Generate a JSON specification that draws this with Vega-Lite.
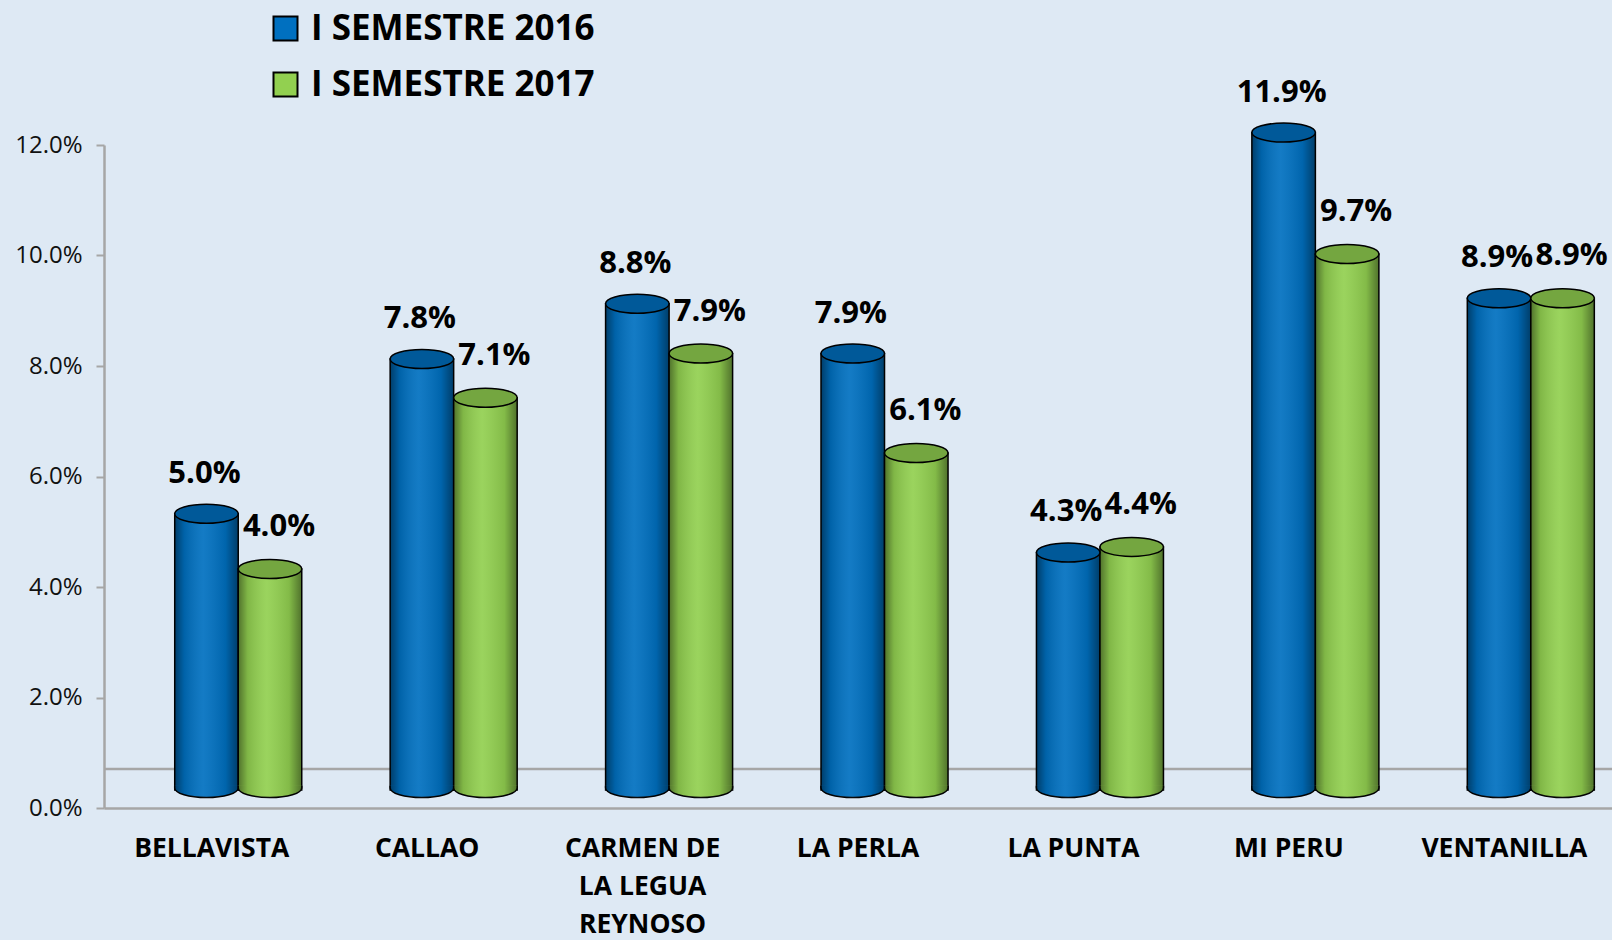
{
  "$schema": "https://vega.github.io/schema/vega-lite/v6.json",
  "width": 1508,
  "height": 663,
  "autosize": {"type": "none"},
  "padding": {"left": 104, "top": 145, "right": 0, "bottom": 132},
  "background": "#dee9f4",
  "config": {"view": {"stroke": null}, "font": "Open Sans"},
  "layer": [
    {
      "data": {"values": [{"base": 0}]},
      "mark": {"type": "rule", "color": "#a6a6a6", "strokeWidth": 2.5, "yOffset": -39},
      "encoding": {"y": {"field": "base", "type": "quantitative", "scale": {"domain": [0, 0.12], "nice": false}}}
    },
    {
      "data": {
        "values": [
          {"municipio": "BELLAVISTA", "periodo": "I SEMESTRE 2016", "valor": 0.050},
          {"municipio": "BELLAVISTA", "periodo": "I SEMESTRE 2017", "valor": 0.040},
          {"municipio": "CALLAO", "periodo": "I SEMESTRE 2016", "valor": 0.078},
          {"municipio": "CALLAO", "periodo": "I SEMESTRE 2017", "valor": 0.071},
          {"municipio": "CARMEN DE LA LEGUA REYNOSO", "periodo": "I SEMESTRE 2016", "valor": 0.088},
          {"municipio": "CARMEN DE LA LEGUA REYNOSO", "periodo": "I SEMESTRE 2017", "valor": 0.079},
          {"municipio": "LA PERLA", "periodo": "I SEMESTRE 2016", "valor": 0.079},
          {"municipio": "LA PERLA", "periodo": "I SEMESTRE 2017", "valor": 0.061},
          {"municipio": "LA PUNTA", "periodo": "I SEMESTRE 2016", "valor": 0.043},
          {"municipio": "LA PUNTA", "periodo": "I SEMESTRE 2017", "valor": 0.044},
          {"municipio": "MI PERU", "periodo": "I SEMESTRE 2016", "valor": 0.119},
          {"municipio": "MI PERU", "periodo": "I SEMESTRE 2017", "valor": 0.097},
          {"municipio": "VENTANILLA", "periodo": "I SEMESTRE 2016", "valor": 0.089},
          {"municipio": "VENTANILLA", "periodo": "I SEMESTRE 2017", "valor": 0.089}
        ]
      },
      "encoding": {
        "x": {
          "field": "municipio", "type": "nominal", "sort": null,
          "scale": {"paddingInner": 0, "paddingOuter": 0},
          "axis": {
            "title": null, "labelAngle": 0, "ticks": false,
            "domainColor": "#a6a6a6", "domainWidth": 2.5,
            "labelFont": "Open Sans", "labelFontSize": 26.5, "labelFontWeight": "bold", "labelColor": "#000",
            "labelPadding": 27, "labelLineHeight": 38, "labelLimit": 0,
            "labelExpr": "datum.value == 'CARMEN DE LA LEGUA REYNOSO' ? ['CARMEN DE', 'LA LEGUA', 'REYNOSO'] : datum.value"
          }
        },
        "xOffset": {
          "field": "periodo", "type": "nominal",
          "scale": {"paddingInner": 0, "paddingOuter": 0.696, "align": 0.8}
        },
        "y": {
          "field": "valor", "type": "quantitative",
          "scale": {"domain": [0, 0.12], "nice": false},
          "axis": {
            "title": null, "values": [0, 0.02, 0.04, 0.06, 0.08, 0.1, 0.12], "format": ".1%", "grid": false,
            "domainColor": "#a6a6a6", "domainWidth": 2.5, "tickColor": "#a6a6a6", "tickWidth": 2, "tickSize": 8,
            "labelFont": "Open Sans", "labelFontSize": 24, "labelColor": "#111", "labelPadding": 14
          }
        }
      },
      "layer": [
        {
          "mark": {"type": "bar", "stroke": "#000", "strokeWidth": 1.5, "yOffset": -18, "y2Offset": -20},
          "encoding": {
            "color": {
              "field": "periodo", "type": "nominal",
              "scale": {"domain": ["I SEMESTRE 2016", "I SEMESTRE 2017"], "range": ["#0070c0", "#92d050"]},
              "legend": {
                "title": null, "orient": "none", "legendX": 164, "legendY": -134, "padding": 0,
                "symbolType": "square", "symbolSize": 576, "symbolStrokeColor": "#000", "symbolStrokeWidth": 2,
                "symbolOpacity": 1,
                "labelFont": "Open Sans", "labelFontSize": 35, "labelFontWeight": "bold", "labelColor": "#000",
                "rowPadding": 20, "labelOffset": 8, "labelLimit": 0
              }
            }
          }
        },
        {
          "mark": {
            "type": "bar", "yOffset": -18, "y2Offset": -20,
            "fill": {
              "gradient": "linear", "x1": 0, "x2": 1, "y1": 0, "y2": 0,
              "stops": [
                {"offset": 0, "color": "rgba(0,0,0,0.45)"},
                {"offset": 0.15, "color": "rgba(0,0,0,0.12)"},
                {"offset": 0.45, "color": "rgba(255,255,255,0.08)"},
                {"offset": 0.8, "color": "rgba(0,0,0,0.1)"},
                {"offset": 1, "color": "rgba(0,0,0,0.45)"}
              ]
            }
          }
        },
        {
          "mark": {"type": "point", "shape": "M -1 -0.07 L -1 0 A 1 0.3 0 0 0 1 0 L 1 -0.07", "size": 4032, "filled": true, "opacity": 1, "stroke": "#000", "strokeWidth": 1.5, "yOffset": -20},
          "encoding": {
            "y": {"datum": 0},
            "fill": {"field": "periodo", "type": "nominal", "scale": {"domain": ["I SEMESTRE 2016", "I SEMESTRE 2017"], "range": ["#0070c0", "#92d050"]}, "legend": null}
          }
        },
        {
          "mark": {
            "type": "point", "shape": "M -1 -0.07 L -1 0 A 1 0.3 0 0 0 1 0 L 1 -0.07", "size": 4032, "filled": true, "opacity": 1, "strokeWidth": 0, "yOffset": -20,
            "fill": {
              "gradient": "linear", "x1": 0, "x2": 1, "y1": 0, "y2": 0,
              "stops": [
                {"offset": 0, "color": "rgba(0,0,0,0.45)"},
                {"offset": 0.15, "color": "rgba(0,0,0,0.12)"},
                {"offset": 0.45, "color": "rgba(255,255,255,0.08)"},
                {"offset": 0.8, "color": "rgba(0,0,0,0.1)"},
                {"offset": 1, "color": "rgba(0,0,0,0.45)"}
              ]
            }
          },
          "encoding": {"y": {"datum": 0}}
        },
        {
          "mark": {"type": "point", "shape": "M -1 0 A 1 0.3 0 1 0 1 0 A 1 0.3 0 1 0 -1 0 Z", "size": 4032, "filled": true, "opacity": 1, "stroke": "#000", "strokeWidth": 1.5, "yOffset": -18},
          "encoding": {
            "fill": {"field": "periodo", "type": "nominal", "scale": {"domain": ["I SEMESTRE 2016", "I SEMESTRE 2017"], "range": ["#0070c0", "#92d050"]}, "legend": null}
          }
        },
        {
          "mark": {"type": "point", "shape": "M -1 0 A 1 0.3 0 1 0 1 0 A 1 0.3 0 1 0 -1 0 Z", "size": 4032, "filled": true, "fill": "#000", "opacity": 1, "fillOpacity": 0.2, "strokeWidth": 0, "yOffset": -18}
        },
        {
          "transform": [{"filter": "datum.periodo == 'I SEMESTRE 2016'"}],
          "mark": {"type": "text", "font": "Open Sans", "fontSize": 31, "fontWeight": "bold", "color": "#000", "baseline": "middle", "dy": -58, "dx": -2},
          "encoding": {"text": {"field": "valor", "type": "quantitative", "format": ".1%"}}
        },
        {
          "transform": [{"filter": "datum.periodo == 'I SEMESTRE 2017'"}],
          "mark": {"type": "text", "font": "Open Sans", "fontSize": 31, "fontWeight": "bold", "color": "#000", "baseline": "middle", "dy": -60, "dx": 9},
          "encoding": {"text": {"field": "valor", "type": "quantitative", "format": ".1%"}}
        }
      ]
    }
  ]
}
